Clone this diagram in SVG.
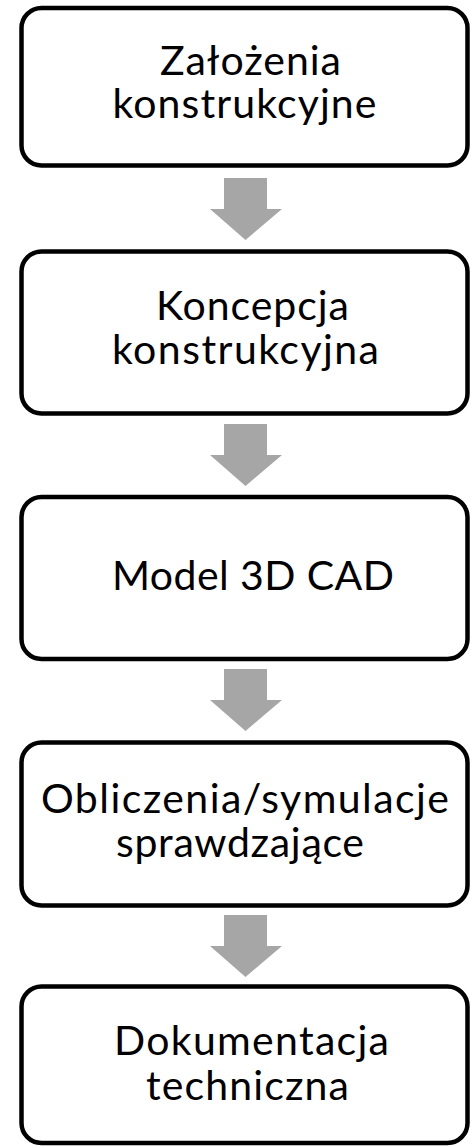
<svg xmlns="http://www.w3.org/2000/svg" width="471" height="1146" viewBox="0 0 471 1146">
<defs>
<style>
.box{fill:#fff;stroke:#000;stroke-width:4.5}
.t{font-family:Lato,"Open Sans",sans-serif;font-size:41px;fill:#000;text-anchor:middle}
.arr{fill:#A6A6A6}
</style>
</defs>
<rect width="471" height="1146" fill="#fff"/>
<g id="connectors">
<polygon class="arr" points="224,178 267,178 267,209 282,209 245.5,240 210,209 224,209"/>
<polygon class="arr" points="224,424 267,424 267,455 282,455 245.5,486 210,455 224,455"/>
<polygon class="arr" points="224,669 267,669 267,700 282,700 245.5,731 210,700 224,700"/>
<polygon class="arr" points="224,915 267,915 267,946 282,946 245.5,977 210,946 224,946"/>
</g>
<g id="n1">
<rect class="box" x="21.5" y="8" width="446" height="157.5" rx="20"/>
<text class="t" x="250.5" y="74.5" textLength="181" lengthAdjust="spacing">Założenia</text>
<text class="t" x="244.5" y="118" textLength="264" lengthAdjust="spacing">konstrukcyjne</text>
</g>
<g id="n2">
<rect class="box" x="21.5" y="251.5" width="446" height="162" rx="20"/>
<text class="t" x="252.5" y="320" textLength="193" lengthAdjust="spacing">Koncepcja</text>
<text class="t" x="245.5" y="364" textLength="267" lengthAdjust="spacing">konstrukcyjna</text>
</g>
<g id="n3">
<rect class="box" x="21.5" y="497" width="446" height="162" rx="20"/>
<text class="t" x="253" y="590" textLength="282" lengthAdjust="spacing">Model 3D CAD</text>
</g>
<g id="n4">
<rect class="box" x="21.5" y="742.5" width="446" height="163" rx="20"/>
<text class="t" x="245" y="813" textLength="408" lengthAdjust="spacing">Obliczenia/symulacje</text>
<text class="t" x="240" y="857" textLength="248" lengthAdjust="spacing">sprawdzające</text>
</g>
<g id="n5">
<rect class="box" x="21.5" y="986.5" width="446" height="156.5" rx="20"/>
<text class="t" x="251.5" y="1055" textLength="275" lengthAdjust="spacing">Dokumentacja</text>
<text class="t" x="247.5" y="1100" textLength="203" lengthAdjust="spacing">techniczna</text>
</g>
</svg>
